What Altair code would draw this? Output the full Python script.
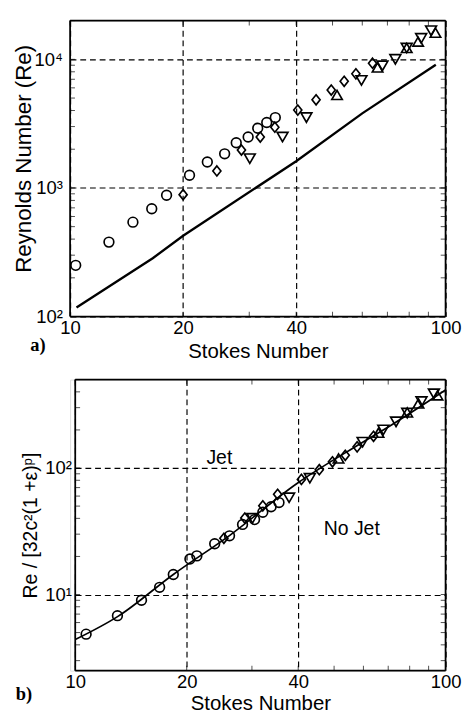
import altair as alt
import pandas as pd

# ---------------- panel a) : Reynolds number vs Stokes number ----------------
a_circle_st = [10.35, 12.69, 14.7, 16.5, 18.07, 20.8, 23.2, 25.8, 27.7, 29.8, 31.6, 33.4, 35.2]
a_circle_re = [250, 379, 542, 689, 877, 1256, 1592, 1841, 2244, 2488, 2910, 3229, 3523]
a_diamond_st = [20.0, 24.6, 28.6, 32.1, 35.1, 40.4, 45.2, 49.6, 53.7, 57.7, 63.9]
a_diamond_re = [887, 1355, 1972, 2488, 2965, 4029, 4843, 5770, 6750, 7710, 9330]
a_tridown_st = [30.1, 36.8, 42.6, 59.7, 67.9, 73.5, 78.8, 86.1, 91.5]
a_tridown_re = [1687, 2488, 3524, 6850, 8900, 10000, 12250, 14560, 16700]
a_triup_st = [51.4, 65.9, 78.8, 84.5, 94.0]
a_triup_re = [5285, 8650, 12250, 13740, 16100]
a_line_st = [10.4, 16.6, 20.0, 40.0, 60.0, 94.2]
a_line_re = [117.5, 284, 425, 1614, 3800, 9060]

# ---------------- panel b) : normalised Reynolds number ----------------
b_circle_st = [10.7, 13.0, 15.1, 16.9, 18.4, 20.4, 21.3, 23.8, 26.1, 28.3, 30.5, 32.1, 33.8, 35.5]
b_circle_val = [4.86, 6.8, 9.0, 11.4, 14.4, 19.1, 20.2, 25.2, 29.1, 35.8, 39.1, 44.7, 49.4, 53.3]
b_diamond_st = [25.2, 28.7, 32.1, 35.2, 40.8, 45.6, 49.5, 53.6, 57.7, 63.9]
b_diamond_val = [27.8, 40.2, 50.3, 62.0, 81.3, 97.0, 112, 126, 147, 178]
b_tridown_st = [30.1, 37.8, 43.0, 59.7, 67.9, 73.5, 78.8, 86.1, 93.0]
b_tridown_val = [40.0, 58.2, 83.0, 160, 200, 232, 272, 335, 386]
b_triup_st = [51.4, 65.9, 78.8, 84.5, 95.1]
b_triup_val = [119, 190, 275, 324, 375]
b_line_st = [10.0, 13.04, 18.4, 26.2, 39.7, 58.7, 71.8, 100.0]
b_line_val = [4.4, 6.71, 14.4, 29.5, 75.5, 155, 221, 414]

notes_text = ["Jet", "No Jet"]
notes_st = [24.5, 55.8]
notes_val = [119, 33.0]

# ---------------- axes ----------------
x_labels = [10, 20, 40, 100]
x_minor = [10, 20, 30, 40, 50, 60, 70, 80, 90, 100]
a_ydomain = [100, 20000]
a_ymajor = [100, 1000, 10000]
a_yminor = [k * 10 ** e for e in (2, 3, 4) for k in range(1, 10) if k * 10 ** e <= 20000]
b_ydomain = [2.5, 500]
b_ymajor = [10, 100]
b_yminor = [k * 10 ** e for e in (0, 1, 2) for k in range(1, 10) if 2.5 <= k * 10 ** e <= 500]

KINDS = ["circle", "diamond", "tri_up", "tri_down"]
SHAPES = ["circle", "M0,-1L0.8,0L0,1L-0.8,0Z", "triangle-up", "triangle-down"]
SIZES = [100, 125, 160, 160]

SANS = "Liberation Sans"


def points_frame(series):
    rows = []
    for kind, xs, ys in series:
        for x, y in zip(xs, ys):
            rows.append({"St": x, "val": y, "kind": kind})
    return pd.DataFrame(rows)


def panel(points, line_st, line_val, ydomain, ymajor, yminor, width, height,
          xrange, label_expr, ytitle, ytitle_size, ytitle_x, ytitle_y,
          ylabel_pad, yoffset, xlabel_pad, xtitle_y,
          tag, tag_x, tag_y, line_w, line_interp, notes=None):
    xs = alt.Scale(type="log", domain=[10, 100], range=xrange, nice=False)
    ys = alt.Scale(type="log", domain=ydomain, nice=False)

    xaxis = alt.Axis(values=x_labels, format="d", title="Stokes Number",
                     grid=True, gridDash=[6, 4], gridColor="black", gridWidth=1.2,
                     gridOpacity=1, ticks=False, domain=False,
                     labelFont=SANS, labelFontSize=19, labelColor="black",
                     labelPadding=xlabel_pad, labelFlush=False,
                     titleFont=SANS, titleFontSize=21, titleFontWeight="normal",
                     titleColor="black", titleBaseline="alphabetic", titleY=xtitle_y)
    yaxis = alt.Axis(values=ymajor, labelExpr=label_expr, title=ytitle,
                     grid=True, gridDash=[6, 4], gridColor="black", gridWidth=1.2,
                     gridOpacity=1, ticks=False, domain=False, offset=yoffset,
                     labelFont=SANS, labelFontSize=19, labelColor="black",
                     labelPadding=ylabel_pad, labelFlush=False,
                     titleFont=SANS, titleFontSize=ytitle_size, titleFontWeight="normal",
                     titleColor="black", titleBaseline="alphabetic",
                     titleX=ytitle_x, titleY=ytitle_y)

    X = lambda f: alt.X(f, scale=xs, axis=xaxis)
    Y = lambda f: alt.Y(f, scale=ys, axis=yaxis)

    base_pts = alt.Chart(points).mark_point(filled=False, strokeWidth=1.7, color="black", opacity=1).encode(
        x=X("St:Q"), y=Y("val:Q"),
        shape=alt.Shape("kind:N", scale=alt.Scale(domain=KINDS, range=SHAPES), legend=None),
        size=alt.Size("kind:N", scale=alt.Scale(domain=KINDS, range=SIZES), legend=None),
    )

    line = alt.Chart(pd.DataFrame({"St": line_st, "val": line_val})).mark_line(
        color="black", strokeWidth=line_w, interpolate=line_interp).encode(
        x=X("St:Q"), y=Y("val:Q"))

    vframe = alt.Chart(pd.DataFrame({"St": [10, 100], "val": [ydomain[0]] * 2, "val2": [ydomain[1]] * 2})
                       ).mark_rule(color="black", strokeWidth=1.8).encode(
        x=X("St:Q"), y=Y("val:Q"), y2="val2:Q")
    hframe = alt.Chart(pd.DataFrame({"val": ydomain, "St": [10, 10], "St2": [100, 100]})
                       ).mark_rule(color="black", strokeWidth=1.8).encode(
        y=Y("val:Q"), x=X("St:Q"), x2="St2:Q")

    xt = pd.DataFrame({"St": x_minor})
    yt = pd.DataFrame({"val": yminor})
    tick_kw = dict(color="black", thickness=1, size=5)
    xt_bot = alt.Chart(xt).mark_tick(orient="vertical", **tick_kw).encode(
        x=X("St:Q"), y=alt.value(height - 2.5))
    xt_top = alt.Chart(xt).mark_tick(orient="vertical", **tick_kw).encode(
        x=X("St:Q"), y=alt.value(2.5))
    yt_left = alt.Chart(yt).mark_tick(orient="horizontal", **tick_kw).encode(
        y=Y("val:Q"), x=alt.value(xrange[0] + 2.5))
    yt_right = alt.Chart(yt).mark_tick(orient="horizontal", **tick_kw).encode(
        y=Y("val:Q"), x=alt.value(xrange[1] - 2.5))

    tag_mark = alt.Chart(pd.DataFrame({"t": [tag]})).mark_text(
        font="Liberation Serif", fontWeight="bold", fontSize=19, color="black",
        align="left", baseline="middle").encode(
        text="t:N", x=alt.value(tag_x), y=alt.value(tag_y))

    layers = [base_pts, line, xt_bot, xt_top, yt_left, yt_right, vframe, hframe, tag_mark]
    if notes is not None:
        note_mark = alt.Chart(notes).mark_text(
            font=SANS, fontSize=20, color="black", align="center", baseline="middle").encode(
            x=X("St:Q"), y=Y("val:Q"), text="t:N")
        layers.append(note_mark)
    return alt.layer(*layers).properties(width=width, height=height)


a_points = points_frame([
    ("circle", a_circle_st, a_circle_re),
    ("diamond", a_diamond_st, a_diamond_re),
    ("tri_down", a_tridown_st, a_tridown_re),
    ("tri_up", a_triup_st, a_triup_re),
])
b_points = points_frame([
    ("circle", b_circle_st, b_circle_val),
    ("diamond", b_diamond_st, b_diamond_val),
    ("tri_down", b_tridown_st, b_tridown_val),
    ("tri_up", b_triup_st, b_triup_val),
])
notes = pd.DataFrame({"t": notes_text, "St": notes_st, "val": notes_val})

top = panel(a_points, a_line_st, a_line_re, a_ydomain, a_ymajor, a_yminor,
            387, 305, [0, 387],
            "datum.value == 100 ? '10²' : datum.value == 1000 ? '10³' : '10⁴'",
            "Reynolds Number (Re)", 23, -41, 142,
            8, 0, 3, 42,
            "a)", -41, 335, 2.4, "linear")
bottom = panel(b_points, b_line_st, b_line_val, b_ydomain, b_ymajor, b_yminor,
               387, 300, [5.3, 387],
               "datum.value == 10 ? '10¹' : '10²'",
               "Re / [32c²(1 +ε)ᵖ]", 20, -40, 150,
               4, -5.3, 2, 40,
               "b)", -56, 324, 1.7, "monotone", notes)

chart = alt.vconcat(top, bottom, spacing=65, bounds="flush").properties(
    padding={"left": 4, "top": 0, "right": 2, "bottom": 0}
).configure_view(stroke=None).configure(background="white")

chart.save("out.html", embed_options={"renderer": "svg", "actions": False})
